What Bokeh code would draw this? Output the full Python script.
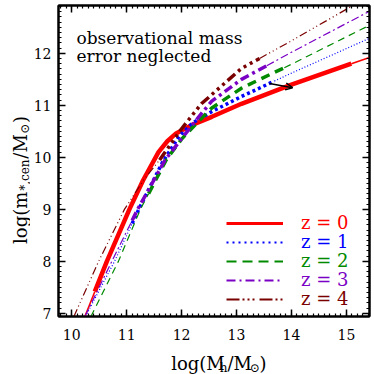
import numpy as np
from bokeh.plotting import figure
from bokeh.layouts import row, column
from bokeh.models import (Range1d, LinearAxis, SingleIntervalTicker, Label,
                          Legend, LegendItem, Arrow, OpenHead)
from bokeh.core.properties import value
from bokeh.embed import file_html
from bokeh.resources import INLINE

# ---------------- data ----------------
x_lim = (9.76, 15.42)
y_lim = (6.94, 12.92)

mh_z0 = [10.24, 10.64, 11.05, 11.30, 11.58, 11.74, 11.90, 12.18, 12.55, 13.09, 14.0, 15.09, 15.42]
ms_z0 = [6.94, 8.00, 9.00, 9.56, 10.10, 10.31, 10.46, 10.62, 10.78, 11.03, 11.40, 11.80, 11.92]

mh_z1 = [10.25, 10.78, 11.22, 11.65, 11.95, 12.20, 12.55, 13.09, 14.0, 15.42]
ms_z1 = [6.94, 8.00, 9.00, 9.90, 10.40, 10.66, 10.88, 11.17, 11.62, 12.29]

mh_z2 = [10.35, 10.85, 11.25, 11.72, 12.00, 12.27, 12.55, 13.09, 14.0, 15.42]
ms_z2 = [6.94, 8.00, 9.00, 9.95, 10.35, 10.65, 10.95, 11.33, 11.79, 12.54]

mh_z3 = [10.24, 10.73, 11.20, 11.70, 12.03, 12.39, 12.55, 13.09, 14.0, 15.42]
ms_z3 = [6.94, 8.00, 9.00, 9.95, 10.40, 10.88, 11.08, 11.50, 12.02, 12.81]

mh_z4 = [10.04, 10.49, 10.96, 11.30, 11.60, 12.00, 12.36, 13.09, 14.0, 15.25]
ms_z4 = [6.94, 8.00, 9.00, 9.55, 9.95, 10.55, 11.03, 11.71, 12.24, 13.00]

# halo-mass range where each relation is drawn thick
thick_z0 = (10.42, 15.09)
thick_z1 = (11.10, 13.69)
thick_z2 = (11.40, 13.87)
thick_z3 = (11.10, 13.55)
thick_z4 = (11.60, 13.42)

redshift_labels = ["z = 0", "z = 1", "z = 2", "z = 3", "z = 4"]
colors = ["#ff0000", "#0000ff", "#008a00", "#7a00c4", "#7a0000"]

arrow_start = (13.60, 11.42)
arrow_end = (14.02, 11.34)

note_lines = ["observational mass", "error neglected"]

FONT = "DejaVu Serif"

# ---------------- main figure ----------------
FW, FH = 311, 311
FL, FT = 57, 5          # frame position on the page
YW = 30                 # width of the y-title strip
MAIN_H = 346

p = figure(frame_width=FW, frame_height=FH, output_backend="svg", toolbar_location=None,
           x_range=Range1d(*x_lim), y_range=Range1d(*y_lim),
           min_border_left=FL - YW, min_border_right=6, min_border_top=FT,
           min_border_bottom=MAIN_H - FT - FH)
p.background_fill_color = "white"
p.border_fill_color = "white"
p.grid.visible = False
p.outline_line_color = "black"
p.outline_line_width = 2

xt = SingleIntervalTicker(interval=1, num_minor_ticks=10)
yt = SingleIntervalTicker(interval=1, num_minor_ticks=10)
p.xaxis.ticker = xt
p.yaxis.ticker = yt


def style_axis(ax, show_labels, standoff=6):
    ax.axis_line_width = 2
    ax.major_tick_in = 7
    ax.major_tick_out = 0
    ax.minor_tick_in = 3
    ax.minor_tick_out = 0
    ax.major_tick_line_width = 1.5
    ax.minor_tick_line_width = 1.2
    if show_labels:
        ax.major_label_text_font = FONT
        ax.major_label_text_font_size = "14px"
        ax.major_label_text_color = "black"
        ax.major_label_standoff = standoff
    else:
        ax.major_label_overrides = {v: "" for v in range(5, 20)}
        ax.major_label_standoff = 0


style_axis(p.xaxis[0], True, 12)
style_axis(p.yaxis[0], True, 7)
ax_top = LinearAxis(ticker=xt)
ax_right = LinearAxis(ticker=yt)
style_axis(ax_top, False)
style_axis(ax_right, False)
p.add_layout(ax_top, "above")
p.add_layout(ax_right, "right")

# ---------------- curves ----------------
series = [
    (mh_z0, ms_z0, thick_z0, None, None, None, 1.6, 4.5, 3.0),
    (mh_z1, ms_z1, thick_z1, "1 2", "3 3", "2 4", 1.2, 3.5, 2.0),
    (mh_z2, ms_z2, thick_z2, "7 5", "9 6", "10 6", 1.2, 3.5, 2.0),
    (mh_z3, ms_z3, thick_z3, "8 3 2 3", "9 4 3 4", "9 4 2 4", 1.2, 3.5, 2.0),
    (mh_z4, ms_z4, thick_z4, "8 3 1 3 1 3 1 3", "10 4 3 4 3 4 3 4",
     "13 3 2 3 2 3 2 5", 1.2, 3.5, 2.0),
]


def seg(x, y, lo, hi):
    x = np.asarray(x, float)
    y = np.asarray(y, float)
    inside = (x > lo) & (x < hi)
    xs = np.concatenate([[lo], x[inside], [hi]])
    ys = np.interp(xs, x, y)
    return xs, ys


legend_renderers = []
for (mh, ms, thick, d_thin, d_thick, d_leg, w_thin, w_thick, w_leg), col in zip(series, colors):
    kw_thin = dict(line_color=col, line_width=w_thin)
    kw_thick = dict(line_color=col, line_width=w_thick)
    if d_thin:
        kw_thin["line_dash"] = d_thin
        kw_thick["line_dash"] = d_thick
    x0, x1 = mh[0], mh[-1]
    xa, ya = seg(mh, ms, x0, thick[0])
    p.line(xa, ya, **kw_thin)
    xb, yb = seg(mh, ms, thick[1], x1)
    p.line(xb, yb, **kw_thin)
    xc, yc = seg(mh, ms, thick[0], thick[1])
    p.line(xc, yc, **kw_thick)
    kw_leg = dict(line_color=col, line_width=w_leg)
    if d_leg:
        kw_leg["line_dash"] = d_leg
    # legend-only renderer (no visible data)
    legend_renderers.append(p.line([np.nan], [np.nan], **kw_leg))

p.add_layout(Arrow(end=OpenHead(size=7, line_width=1.5, line_color="black"),
                   x_start=arrow_start[0], y_start=arrow_start[1],
                   x_end=arrow_end[0], y_end=arrow_end[1],
                   line_width=1.5, line_color="black"))

# ---------------- legend (one per entry, coloured text) ----------------
for i, (lab, col, r) in enumerate(zip(redshift_labels, colors, legend_renderers)):
    lg = Legend(items=[LegendItem(label=lab, renderers=[r])],
                location=(168, 83 - i * 19), orientation="vertical",
                border_line_color=None, background_fill_alpha=0,
                padding=0, margin=0, spacing=0,
                glyph_width=57, glyph_height=16, label_standoff=18,
                label_text_font=FONT, label_text_font_size="18px",
                label_text_color=col, label_height=16)
    p.add_layout(lg)


# ---------------- annotation text ----------------
def px2x(px):
    return x_lim[0] + (px - FL) * (x_lim[1] - x_lim[0]) / FW


def py2y(py):
    return y_lim[1] - (py - FT) * (y_lim[1] - y_lim[0]) / FH


for line_txt, base in zip(note_lines, [37, 55]):
    p.add_layout(Label(x=px2x(75), y=py2y(base), text=line_txt,
                       text_font=FONT, text_font_size="17px", text_color="black",
                       text_baseline="alphabetic", text_align="left"))

# ---------------- axis titles (with subscripts) ----------------
W = {"l": .320, "o": .602, "g": .640, "(": .390, ")": .390, "M": 1.0, "m": .95,
     "h": .644, "/": .337, "*": .500, ",": .318, "c": .564, "e": .592, "n": .644,
     "\u2299": .838}


def twidth(s, size):
    return sum(W.get(c, .6) for c in s) * size + 0.8


def strip_fig(w, h):
    f = figure(width=w, height=h, output_backend="svg", toolbar_location=None,
               x_range=Range1d(0, w), y_range=Range1d(0, h),
               x_axis_location=None, y_axis_location=None,
               min_border=0, min_border_left=0, min_border_right=0,
               min_border_top=0, min_border_bottom=0)
    f.grid.visible = False
    f.outline_line_color = None
    f.background_fill_color = "white"
    f.border_fill_color = "white"
    return f


def composite(f, pieces, center, base, vertical):
    total = sum(twidth(t, s) for t, s, _ in pieces)
    pos = center - total / 2
    for t, s, shift in pieces:
        w = twidth(t, s)
        if not vertical:
            f.text(x=[pos], y=[base - shift], text=[t], text_font=value(FONT),
                   text_font_size=f"{s}px", text_color="black",
                   text_baseline="alphabetic", text_align="left")
        else:
            f.text(x=[base + shift], y=[pos], text=[t], angle=np.pi / 2,
                   text_font=value(FONT), text_font_size=f"{s}px", text_color="black",
                   text_baseline="alphabetic", text_align="left")
        pos += w


xlabel_pieces = [("log(M", 18, 0), ("h", 12, 4), ("/M", 18, 0), ("\u2299", 12, 4), (")", 18, 0)]
ylabel_pieces = [("log(m", 18, 0), ("*,cen", 12, 4), ("/M", 18, 0), ("\u2299", 12, 4), (")", 18, 0)]

XH = 374 - MAIN_H
xfig = strip_fig(374 - YW, XH)
composite(xfig, xlabel_pieces, 208 - YW, XH - (363 - MAIN_H), False)

yfig = strip_fig(YW, 374)
composite(yfig, ylabel_pieces, 374 - 179, 20, True)

layout = row(yfig, column(p, xfig, spacing=0), spacing=0)

open("out.html", "w").write(file_html(layout, INLINE))
